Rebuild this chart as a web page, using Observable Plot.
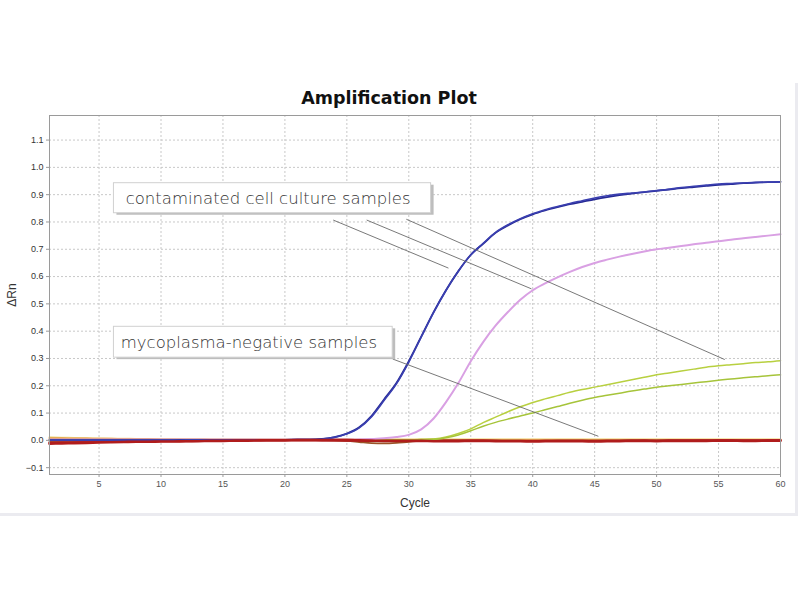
<!DOCTYPE html>
<html>
<head>
<meta charset="utf-8">
<script src="https://cdn.jsdelivr.net/npm/d3@7"></script>
<script src="https://cdn.jsdelivr.net/npm/@observablehq/plot@0.6"></script>
<style>
  html, body { margin: 0; padding: 0; background: #fff; width: 800px; height: 600px; overflow: hidden; }
  #panel { position: absolute; left: -3px; top: 83px; width: 798px; height: 430px; border-right: 3px solid #ebebf0; border-bottom: 3px solid #ebebf0; }
  #title { position: absolute; left: 0; top: 88px; width: 778px; text-align: center; font: bold 17.5px "DejaVu Sans", Verdana, sans-serif; color: #111; }
  #chart { position: absolute; left: 0; top: 105px; }
  .axlabel text { font-size: 12px; }
</style>
</head>
<body>
<div id="panel"></div>
<div id="title">Amplification Plot</div>
<div id="chart"></div>
<script>
const cycles = [1,2,3,4,5,6,7,8,9,10,11,12,13,14,15,16,17,18,19,20,21,22,23,24,25,26,27,28,29,30,31,32,33,34,35,36,37,38,39,40,41,42,43,44,45,46,47,48,49,50,51,52,53,54,55,56,57,58,59,60];

const blueA = [0.001,0.001,0.001,0.001,0.001,0.001,0.001,0.001,0.001,0.001,0.001,0.002,0.002,0.002,0.002,0.002,0.002,0.002,0.002,0.002,0.003,0.003,0.005,0.012,0.025,0.048,0.09,0.15,0.21,0.29,0.38,0.47,0.55,0.62,0.68,0.72,0.76,0.787,0.81,0.828,0.842,0.854,0.865,0.874,0.883,0.891,0.898,0.904,0.909,0.914,0.919,0.924,0.928,0.932,0.936,0.939,0.942,0.944,0.946,0.947];
const blueB = [0.001,0.001,0.001,0.001,0.001,0.001,0.001,0.001,0.001,0.001,0.001,0.002,0.002,0.002,0.002,0.002,0.002,0.002,0.002,0.002,0.003,0.003,0.005,0.011,0.024,0.046,0.087,0.146,0.207,0.287,0.378,0.468,0.549,0.62,0.679,0.722,0.762,0.79,0.812,0.83,0.845,0.857,0.868,0.878,0.888,0.896,0.902,0.906,0.91,0.915,0.92,0.926,0.931,0.935,0.939,0.941,0.943,0.945,0.946,0.947];
const pink = [0.003,0.003,0.003,0.003,0.003,0.003,0.003,0.003,0.003,0.003,0.003,0.003,0.003,0.003,0.003,0.003,0.003,0.003,0.003,0.003,0.003,0.003,0.003,0.003,0.003,0.004,0.005,0.008,0.012,0.02,0.04,0.08,0.14,0.21,0.29,0.36,0.42,0.47,0.515,0.55,0.575,0.597,0.617,0.635,0.65,0.662,0.673,0.683,0.692,0.70,0.706,0.712,0.718,0.724,0.729,0.735,0.74,0.745,0.75,0.755];
const greenA = [0.002,0.002,0.002,0.002,0.002,0.002,0.002,0.002,0.002,0.002,0.002,0.002,0.002,0.002,0.002,0.002,0.002,0.002,0.002,0.002,0.002,0.002,0.002,0.002,0.002,0.002,0.002,0.002,0.002,0.002,0.003,0.005,0.012,0.025,0.042,0.065,0.085,0.105,0.123,0.139,0.152,0.164,0.176,0.186,0.195,0.204,0.213,0.222,0.231,0.24,0.247,0.254,0.261,0.268,0.273,0.277,0.281,0.285,0.288,0.292];
const greenB = [0.002,0.002,0.002,0.002,0.002,0.002,0.002,0.002,0.002,0.002,0.002,0.002,0.002,0.002,0.002,0.002,0.002,0.002,0.002,0.002,0.002,0.002,0.002,0.002,0.002,0.002,0.002,0.002,0.002,0.002,0.003,0.004,0.01,0.02,0.035,0.052,0.066,0.078,0.089,0.10,0.112,0.124,0.136,0.147,0.157,0.165,0.173,0.181,0.188,0.195,0.20,0.205,0.21,0.215,0.22,0.225,0.229,0.233,0.237,0.24];
const redA = [-0.012,-0.011,-0.010,-0.009,-0.008,-0.007,-0.006,-0.005,-0.005,-0.004,-0.004,-0.003,-0.003,-0.002,-0.002,-0.001,-0.001,0.0,0.0,0.0,0.001,0.001,0.001,0.001,0.001,0.0,-0.001,-0.002,-0.002,-0.002,-0.002,-0.003,-0.003,-0.003,-0.002,-0.002,-0.003,-0.003,-0.003,-0.004,-0.003,-0.003,-0.003,-0.003,-0.004,-0.003,-0.003,-0.002,-0.002,-0.003,-0.002,-0.002,-0.002,-0.002,-0.001,-0.001,-0.002,-0.002,-0.001,-0.001];
const redB = [-0.008,-0.007,-0.007,-0.006,-0.006,-0.005,-0.005,-0.004,-0.004,-0.003,-0.003,-0.003,-0.002,-0.002,-0.001,-0.001,0.0,0.0,0.001,0.001,0.001,0.001,0.0,0.0,-0.001,-0.001,-0.002,-0.002,-0.001,0.0,0.0,-0.001,-0.001,-0.001,-0.001,-0.001,-0.001,-0.002,-0.002,-0.002,-0.001,-0.001,-0.001,-0.001,-0.002,-0.001,-0.001,-0.001,0.0,-0.001,0.0,0.0,0.0,0.0,0.001,0.001,0.0,0.0,0.001,0.001];
const brown = [-0.006,-0.006,-0.005,-0.005,-0.004,-0.004,-0.003,-0.003,-0.002,-0.002,-0.002,-0.001,-0.001,-0.001,0.0,0.0,0.001,0.001,0.001,0.002,0.002,0.002,0.001,0.0,-0.002,-0.006,-0.010,-0.011,-0.009,-0.005,-0.002,-0.001,0.0,0.0,-0.001,-0.001,-0.001,-0.001,-0.001,-0.002,-0.002,-0.001,-0.001,-0.001,-0.001,-0.001,-0.001,0.0,0.0,0.0,0.0,0.0,0.0,0.001,0.001,0.001,0.0,0.0,0.0,0.0];
const orange = [0.008,0.008,0.007,0.007,0.006,0.006,0.005,0.005,0.005,0.004,0.004,0.004,0.004,0.003,0.003,0.003,0.003,0.003,0.003,0.003,0.003,0.003,0.003,0.003,0.003,0.002,0.002,0.002,0.002,0.002,0.002,0.002,0.002,0.002,0.002,0.002,0.001,0.001,0.001,0.001,0.001,0.001,0.001,0.001,0.001,0.001,0.001,0.001,0.001,0.001,0.001,0.001,0.001,0.001,0.001,0.001,0.001,0.001,0.001,0.001];
const paleYellow = [0.011,0.010,0.009,0.008,0.007,0.006,0.006,0.005,0.005,0.005,0.005,0.004,0.004,0.004,0.004,0.004,0.004,0.004,0.004,0.004,0.004,0.004,0.004,0.004,0.004,0.004,0.004,0.004,0.004,0.004,0.004,0.004,0.004,0.004,0.004,0.004,0.004,0.004,0.004,0.004,0.004,0.004,0.004,0.004,0.004,0.004,0.004,0.004,0.004,0.004,0.004,0.004,0.004,0.004,0.004,0.004,0.004,0.004,0.004,0.004];

const seriesNames = ["paleYellow","orange","brown","redB","greenA","greenB","pink","blueA","blueB","redA"];
const seriesValues = [paleYellow, orange, brown, redB, greenA, greenB, pink, blueA, blueB, redA];
const seriesColors = ["#f3dc95","#e4a040","#9a5428","#b3262a","#b8d040","#a6c43a","#d9a0e3","#262a94","#3a3fb0","#b01c1c"];
const seriesWidths = [2, 1.8, 1.8, 2.2, 1.5, 1.5, 2, 1.8, 1.6, 2.6];

const xTicks = [5,10,15,20,25,30,35,40,45,50,55,60];
const yTicks = [-0.1,0.0,0.1,0.2,0.3,0.4,0.5,0.6,0.7,0.8,0.9,1.0,1.1];

// annotation boxes (data units)
const boxLabels = ["contaminated cell culture samples", "mycoplasma-negative samples"];
const boxX1 = [6.2, 6.2];
const boxX2 = [31.8, 28.7];
const boxY1 = [0.832, 0.303];
const boxY2 = [0.942, 0.416];
const labelX = [7.15, 6.75];
const labelY = [0.885, 0.357];

// leader lines (data units)
const leadX1 = [23.9, 26.6, 29.8, 28.7];
const leadY1 = [0.807, 0.807, 0.810, 0.298];
const leadX2 = [33.2, 39.9, 55.5, 45.3];
const leadY2 = [0.631, 0.555, 0.296, 0.015];

const rows = [];
seriesNames.forEach((name, i) => {
  cycles.forEach((c, j) => rows.push({series: name, cycle: c, value: seriesValues[i][j]}));
});
const boxes = boxLabels.map((t, i) => ({t, x1: boxX1[i], x2: boxX2[i], y1: boxY1[i], y2: boxY2[i], lx: labelX[i], ly: labelY[i]}));
const leads = leadX1.map((x, i) => ({x1: x, y1: leadY1[i], x2: leadX2[i], y2: leadY2[i]}));

const lineMarks = seriesNames.map((name, i) =>
  Plot.line(rows.filter(d => d.series === name), {
    x: "cycle", y: "value", stroke: seriesColors[i], strokeWidth: seriesWidths[i], curve: "monotone-x"
  })
);

const chart = Plot.plot({
  width: 800,
  height: 410,
  marginTop: 10,
  marginBottom: 41,
  marginLeft: 49,
  marginRight: 20,
  style: {fontFamily: "'Liberation Sans', Arial, sans-serif", fontSize: "9px", color: "#444", background: "transparent"},
  x: {domain: [1, 60]},
  y: {domain: [-0.125, 1.19]},
  marks: [
    Plot.gridX(xTicks, {stroke: "#c8c8c8", strokeOpacity: 1, strokeDasharray: "2,2"}),
    Plot.gridY(yTicks, {stroke: "#c8c8c8", strokeOpacity: 1, strokeDasharray: "2,2"}),
    ...lineMarks,
    Plot.link(leads, {x1: "x1", y1: "y1", x2: "x2", y2: "y2", stroke: "#6a6a6a", strokeWidth: 0.9}),
    Plot.rect(boxes, {x1: "x1", x2: "x2", y1: "y1", y2: "y2", fill: "#bdbdbd", dx: 3, dy: 2}),
    Plot.rect(boxes, {x1: "x1", x2: "x2", y1: "y1", y2: "y2", fill: "#fff", stroke: "#d0d0d0", strokeWidth: 1}),
    Plot.text(boxes, {x: "lx", y: "ly", text: "t", textAnchor: "start", fontSize: 16.5, fill: "#333", fontFamily: "'DejaVu Sans', sans-serif", fontWeight: 300}),
    Plot.frame({stroke: "#9a9a9a"}),
    Plot.axisX(xTicks, {tickSize: 3, tickPadding: 3, stroke: "#9a9a9a", fill: "#555", label: null, fontSize: 9}),
    Plot.axisX({label: "Cycle", labelAnchor: "center", labelArrow: "none", labelOffset: 32, ticks: [], tickSize: 0, fontSize: 12, fill: "#333", className: "axlabel"}),
    Plot.axisY(yTicks, {tickSize: 3, tickPadding: 3, stroke: "#9a9a9a", fill: "#333", tickFormat: d3.format(".1f"), label: null, fontSize: 9}),
    Plot.axisY({label: "ΔRn", labelAnchor: "center", labelArrow: "none", labelOffset: 42, ticks: [], tickSize: 0, fontSize: 12, fill: "#333", className: "axlabel"})
  ]
});
document.getElementById("chart").appendChild(chart);
</script>
</body>
</html>
